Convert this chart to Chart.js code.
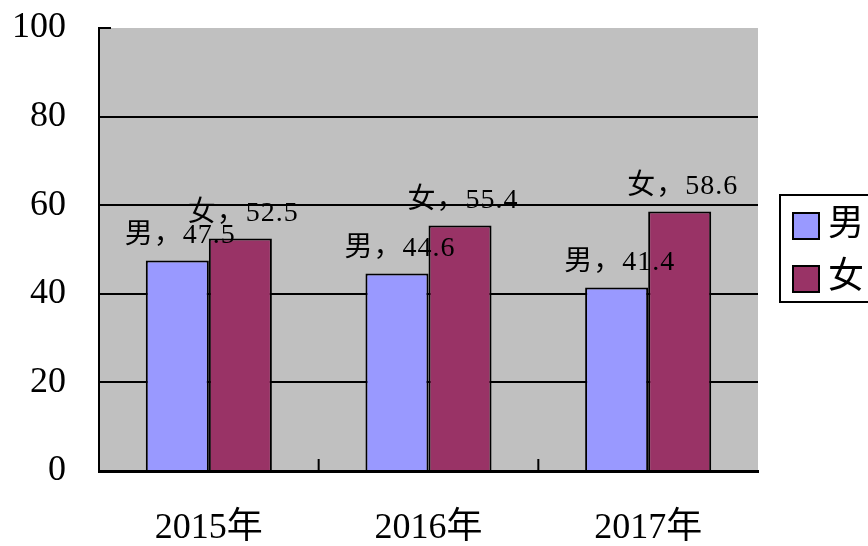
<!DOCTYPE html>
<html>
<head>
<meta charset="utf-8">
<script src="https://cdn.jsdelivr.net/npm/chart.js@4"></script>
<style>
  html, body { margin: 0; padding: 0; background: #fff; }
  #wrap { width: 868px; height: 546px; }
</style>
</head>
<body>
<div id="wrap"><canvas id="barChart" width="868" height="546"></canvas></div>
<script>
// chart data
const categories = ['2015年', '2016年', '2017年'];
const seriesNames = ['男', '女'];
const maleValues = [47.5, 44.6, 41.4];
const femaleValues = [52.5, 55.4, 58.6];
const yTickValues = [0, 20, 40, 60, 80, 100];

const FONT = "'Liberation Serif', 'Noto Sans CJK SC', serif";

// gray plot background + inward tick marks
const plotDecor = {
    id: 'plotDecor',
    beforeDraw(chart) {
        const { ctx, chartArea: a } = chart;
        ctx.save();
        ctx.fillStyle = '#c0c0c0';
        ctx.fillRect(a.left, a.top, a.right - a.left, a.bottom - a.top);
        ctx.restore();
    },
    afterDraw(chart) {
        const { ctx, chartArea: a, scales } = chart;
        ctx.save();
        ctx.strokeStyle = '#000';
        ctx.lineWidth = 2;
        // short tick at the top value of the y axis
        const yTop = scales.y.getPixelForValue(yTickValues[yTickValues.length - 1]);
        ctx.beginPath();
        ctx.moveTo(a.left, yTop);
        ctx.lineTo(a.left + 12, yTop);
        ctx.stroke();
        // category boundary ticks on the x axis
        for (let i = 1; i < categories.length; i++) {
            const px = (scales.x.getPixelForValue(i - 1) + scales.x.getPixelForValue(i)) / 2;
            ctx.beginPath();
            ctx.moveTo(px, a.bottom);
            ctx.lineTo(px, a.bottom - 12);
            ctx.stroke();
        }
        ctx.restore();
    }
};

// "男，47.5" style labels above bars
const barLabels = {
    id: 'barLabels',
    afterDatasetsDraw(chart) {
        const { ctx } = chart;
        ctx.save();
        ctx.font = '28px ' + FONT;
        ctx.fillStyle = '#000';
        ctx.textAlign = 'center';
        ctx.textBaseline = 'middle';
        if ('letterSpacing' in ctx) ctx.letterSpacing = '1px';
        chart.data.datasets.forEach((ds, di) => {
            chart.getDatasetMeta(di).data.forEach((bar, i) => {
                ctx.fillText(ds.label + '，' + ds.data[i], bar.x + 3, bar.y - 25);
            });
        });
        ctx.restore();
    }
};

// boxed legend at the right, running off the edge
const boxLegend = {
    id: 'boxLegend',
    afterDraw(chart) {
        const { ctx, chartArea: a } = chart;
        const left = a.right + 22;
        const top = 195;
        const rowH = 53;
        ctx.save();
        ctx.strokeStyle = '#000';
        ctx.lineWidth = 2;
        ctx.strokeRect(left, top, 200, 107);
        ctx.font = '36px ' + FONT;
        ctx.textBaseline = 'middle';
        ctx.textAlign = 'left';
        chart.data.datasets.forEach((ds, i) => {
            const y = top + 18 + i * rowH;
            ctx.fillStyle = ds.backgroundColor;
            ctx.fillRect(left + 13, y, 26, 26);
            ctx.lineWidth = 2;
            ctx.strokeRect(left + 13, y, 26, 26);
            ctx.fillStyle = '#000';
            ctx.fillText(ds.label, left + 48, y + 13);
        });
        ctx.restore();
    }
};

new Chart(document.getElementById('barChart'), {
    type: 'bar',
    data: {
        labels: categories,
        datasets: [{
            label: seriesNames[0],
            data: maleValues,
            backgroundColor: '#9999ff',
            borderColor: '#000',
            borderWidth: 2
        }, {
            label: seriesNames[1],
            data: femaleValues,
            backgroundColor: '#993366',
            borderColor: '#000',
            borderWidth: 2
        }]
    },
    options: {
        responsive: false,
        animation: false,
        layout: { padding: { top: 28, right: 110, left: 0, bottom: 0 } },
        datasets: { bar: { categoryPercentage: 0.574, barPercentage: 1 } },
        plugins: { legend: { display: false }, tooltip: { enabled: false } },
        scales: {
            x: {
                afterFit: s => { s.height = 75; s.paddingLeft = 0; s.paddingRight = 0; },
                grid: { display: false, drawTicks: false },
                border: { display: true, color: '#000', width: 3 },
                ticks: { color: '#000', padding: 36, font: { family: FONT, size: 36 } }
            },
            y: {
                min: 0,
                max: 100,
                afterFit: s => { s.width = 99; s.paddingTop = 0; s.paddingBottom = 0; },
                afterBuildTicks: s => { s.ticks = yTickValues.map(v => ({ value: v })); },
                grid: {
                    drawTicks: false,
                    lineWidth: 2,
                    color: c => (c.tick && c.tick.value === 100) ? 'rgba(0,0,0,0)' : '#000'
                },
                border: { display: true, color: '#000', width: 2 },
                ticks: { color: '#000', padding: 33, font: { family: FONT, size: 36 } }
            }
        }
    },
    plugins: [plotDecor, barLabels, boxLegend]
});
</script>
</body>
</html>
